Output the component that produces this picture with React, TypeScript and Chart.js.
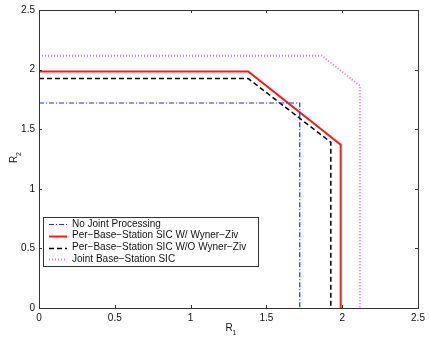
import React, { useEffect, useRef } from "react";
import { Chart, registerables } from "chart.js";
Chart.register(...registerables);

const seriesLabels = [
  "No Joint Processing",
  "Per\u2212Base\u2212Station SIC W/ Wyner\u2212Ziv",
  "Per\u2212Base\u2212Station SIC W/O Wyner\u2212Ziv",
  "Joint Base\u2212Station SIC",
];
const noJointX = [0, 1.72, 1.72];
const noJointY = [1.72, 1.72, 0];
const withWZX = [0, 1.38, 1.99, 1.99];
const withWZY = [1.985, 1.985, 1.37, 0];
const withoutWZX = [0, 1.38, 1.925, 1.925];
const withoutWZY = [1.925, 1.925, 1.39, 0];
const jointX = [0, 1.865, 2.117, 2.117];
const jointY = [2.117, 2.117, 1.865, 0];
const tickValues = [0, 0.5, 1, 1.5, 2, 2.5];
const tickLabels = ["0", "0.5", "1", "1.5", "2", "2.5"];

const FONT = "'Liberation Sans', Arial, sans-serif";

function pts(xs: number[], ys: number[]) {
  return xs.map((x, i) => ({ x, y: ys[i] }));
}

const deco = {
  id: "deco",
  afterDraw(chart: any) {
    const ctx = chart.ctx;
    const a = chart.chartArea;
    const xs = chart.scales.x;
    const ys = chart.scales.y;
    ctx.save();
    ctx.strokeStyle = "#333";
    ctx.lineWidth = 1;
    ctx.setLineDash([]);
    ctx.strokeRect(Math.round(a.left) + 0.5, Math.round(a.top) + 0.5, Math.round(a.right - a.left), Math.round(a.bottom - a.top));
    const tl = 3;
    ctx.beginPath();
    tickValues.forEach((v) => {
      const px = Math.round(xs.getPixelForValue(v)) + 0.5;
      ctx.moveTo(px, a.bottom);
      ctx.lineTo(px, a.bottom - tl);
      ctx.moveTo(px, a.top);
      ctx.lineTo(px, a.top + tl);
      const py = Math.round(ys.getPixelForValue(v)) + 0.5;
      ctx.moveTo(a.left, py);
      ctx.lineTo(a.left + tl, py);
      ctx.moveTo(a.right, py);
      ctx.lineTo(a.right - tl, py);
    });
    ctx.stroke();
    ctx.fillStyle = "#111";
    ctx.textBaseline = "alphabetic";
    ctx.textAlign = "left";
    ctx.font = `10px ${FONT}`;
    const cx = (a.left + a.right) / 2;
    ctx.fillText("R", cx - 3, 331);
    ctx.font = `7px ${FONT}`;
    ctx.fillText("1", cx + 4, 335);
    ctx.save();
    ctx.translate(17, (a.top + a.bottom) / 2);
    ctx.rotate(-Math.PI / 2);
    ctx.font = `10px ${FONT}`;
    ctx.fillText("R", -4, 0);
    ctx.font = `7px ${FONT}`;
    ctx.fillText("2", 3, 4);
    ctx.restore();
    const lx = 43, ly = 217, lw = 215, lh = 49;
    ctx.fillStyle = "#fff";
    ctx.fillRect(lx, ly, lw, lh);
    ctx.strokeStyle = "#333";
    ctx.lineWidth = 1;
    ctx.strokeRect(lx + 0.5, ly + 0.5, lw, lh);
    const rows = [224, 235.7, 247.5, 259.2];
    chart.data.datasets.forEach((ds: any, i: number) => {
      const y = rows[i];
      ctx.strokeStyle = ds.borderColor;
      ctx.lineWidth = ds.borderWidth;
      ctx.setLineDash(ds.borderDash || []);
      ctx.beginPath();
      ctx.moveTo(49, Math.round(y) + 0.5);
      ctx.lineTo(67, Math.round(y) + 0.5);
      ctx.stroke();
      ctx.setLineDash([]);
      ctx.fillStyle = "#111";
      ctx.font = `10px ${FONT}`;
      ctx.textBaseline = "middle";
      ctx.fillText(ds.label, 72, y);
    });
    ctx.restore();
  },
};

export default function App() {
  const ref = useRef<HTMLCanvasElement>(null);
  useEffect(() => {
    document.body.style.margin = "0";
    const chart = new Chart(ref.current!, {
      type: "scatter",
      data: {
        datasets: [
          { label: seriesLabels[0], data: pts(noJointX, noJointY), showLine: true, borderColor: "#1432ff", borderWidth: 1.2, borderDash: [5, 2, 1, 2], pointRadius: 0, fill: false },
          { label: seriesLabels[1], data: pts(withWZX, withWZY), showLine: true, borderColor: "#ff1a1a", borderWidth: 2, pointRadius: 0, fill: false },
          { label: seriesLabels[2], data: pts(withoutWZX, withoutWZY), showLine: true, borderColor: "#000", borderWidth: 1.5, borderDash: [5, 3], pointRadius: 0, fill: false },
          { label: seriesLabels[3], data: pts(jointX, jointY), showLine: true, borderColor: "#dd77ff", borderWidth: 2, borderDash: [1, 2], pointRadius: 0, fill: false },
        ],
      },
      options: {
        animation: false,
        responsive: false,
        maintainAspectRatio: false,
        layout: { padding: { top: 8, right: 11, left: 0, bottom: 0 } },
        plugins: { legend: { display: false }, tooltip: { enabled: false } },
        scales: {
          x: {
            type: "linear",
            min: 0,
            max: 2.5,
            afterFit: (s: any) => { s.height = 33; },
            afterBuildTicks: (s: any) => { s.ticks = tickValues.map((v) => ({ value: v })); },
            grid: { display: false, drawTicks: false },
            border: { display: false },
            ticks: {
              padding: 4,
              color: "#111",
              font: { family: FONT, size: 10 },
              maxRotation: 0,
              callback: (v: any) => tickLabels[tickValues.indexOf(Number(v))] ?? "",
            },
          },
          y: {
            type: "linear",
            min: 0,
            max: 2.5,
            afterFit: (s: any) => { s.width = 39; },
            afterBuildTicks: (s: any) => { s.ticks = tickValues.map((v) => ({ value: v })); },
            grid: { display: false, drawTicks: false },
            border: { display: false },
            ticks: {
              padding: 4,
              color: "#111",
              font: { family: FONT, size: 10 },
              callback: (v: any) => tickLabels[tickValues.indexOf(Number(v))] ?? "",
            },
          },
        },
      },
      plugins: [deco],
    });
    return () => chart.destroy();
  }, []);
  return <canvas ref={ref} width={429} height={341} style={{ display: "block" }} />;
}
